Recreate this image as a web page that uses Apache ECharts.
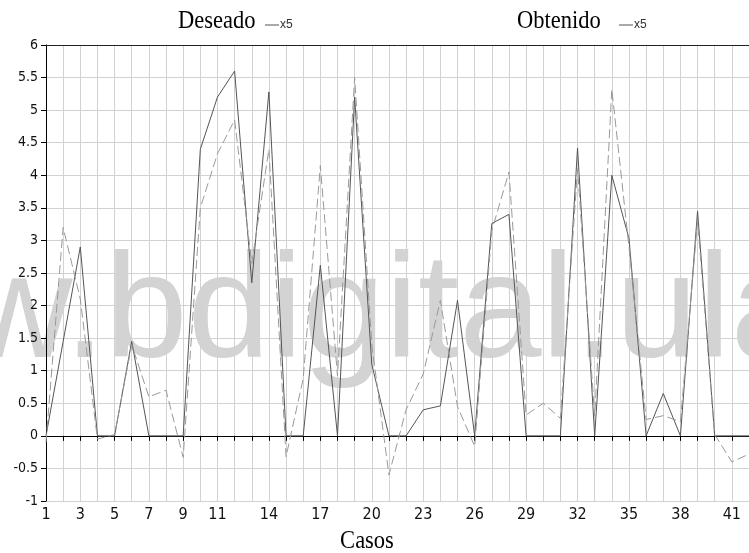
<!DOCTYPE html>
<html>
<head>
<meta charset="utf-8">
<script src="https://cdn.jsdelivr.net/npm/echarts@6/dist/echarts.min.js"></script>
<style>
  html, body { margin: 0; padding: 0; background: #ffffff; }
  #chart { width: 749px; height: 553px; }
</style>
</head>
<body>
<div id="chart"></div>
<script>
// Case numbers along the horizontal axis
const casos = [1,2,3,4,5,6,7,8,9,10,11,12,13,14,15,16,17,18,19,20,21,22,23,24,25,26,27,28,29,30,31,32,33,34,35,36,37,38,39,40,41,42];

// Desired output per case
const deseado = [0, 1.45, 2.9, 0, 0, 1.45, 0, 0, 0, 4.4, 5.2, 5.6, 2.35, 5.28, 0, 0, 2.62, 0, 5.2, 1.1,
  0, 0, 0.4, 0.46, 2.08, 0, 3.26, 3.4, 0, 0, 0, 4.42, 0, 4.0, 3.03, 0, 0.65, 0, 3.45, 0, 0, 0];

// Obtained output per case
const obtenido = [-0.1, 3.2, 2.1, -0.05, 0.02, 1.4, 0.6, 0.7, -0.33, 3.5, 4.33, 4.85, 2.65, 4.4, -0.32, 0.88, 4.15, 0.92, 5.5, 1.4,
  -0.6, 0.4, 0.95, 2.08, 0.45, -0.16, 3.15, 4.05, 0.32, 0.5, 0.27, 4.1, 0.3, 5.32, 2.9, 0.25, 0.31, 0.22, 3.3, 0.02, -0.4, -0.28];

// Cases that carry a label on the horizontal axis
const xTickLabels = ['1','3','5','7','9','11','14','17','20','23','26','29','32','35','38','41'];

const chart = echarts.init(document.getElementById('chart'), null, { renderer: 'canvas' });

const labelFont = "'Liberation Sans Narrow', 'DejaVu Sans Condensed', 'Liberation Sans', Arial, sans-serif";
const serifFont = "'Liberation Serif', 'Times New Roman', serif";
const sansFont = "'Liberation Sans', Arial, sans-serif";

chart.setOption({
  animation: false,
  backgroundColor: '#ffffff',
  grid: { left: 46, top: 45, bottom: 52, right: -11.6, containLabel: false },
  xAxis: [
    {
      type: 'category',
      data: casos.map(String),
      boundaryGap: false,
      axisLine: { show: true, lineStyle: { color: '#000', width: 1 } },
      axisTick: { show: true, interval: 0, length: 5, lineStyle: { color: '#000' } },
      axisLabel: {
        interval: (idx, val) => xTickLabels.includes(val),
        color: '#111', fontFamily: labelFont, fontSize: 16, margin: 6
      },
      splitLine: { show: true, interval: 0, lineStyle: { color: '#d2d2d2', width: 1 } }
    },
    {
      type: 'category',
      position: 'top',
      data: casos.map(String),
      boundaryGap: false,
      axisLine: { show: true, lineStyle: { color: '#222', width: 1 } },
      axisTick: { show: false },
      axisLabel: { show: false },
      splitLine: { show: false }
    }
  ],
  yAxis: {
    type: 'value',
    min: -1, max: 6, interval: 0.5,
    axisLine: { show: true, lineStyle: { color: '#000', width: 1 } },
    axisTick: { show: true, length: 5, lineStyle: { color: '#000' } },
    axisLabel: { color: '#111', fontFamily: labelFont, fontSize: 14, margin: 8 },
    splitLine: { show: true, lineStyle: { color: '#d2d2d2', width: 1 } }
  },
  graphic: [
    {
      // site watermark, on the bottom layer under the axes and the lines
      type: 'text', zlevel: -1, z: 0, silent: true,
      style: {
        text: 'w.bdigital.ula', x: -34.5, y: 316,
        font: '148px ' + sansFont,
        fill: '#d3d3d3', verticalAlign: 'middle', align: 'left'
      }
    },
    { type: 'text', x: 178, y: 21, scaleX: 0.9, style: { text: 'Deseado', x: 0, y: 0, font: '25px ' + serifFont, fill: '#000', verticalAlign: 'middle' } },
    { type: 'line', shape: { x1: 265, y1: 25, x2: 279, y2: 25 }, style: { stroke: '#555', lineWidth: 1 } },
    { type: 'text', style: { text: 'x5', x: 280, y: 25, font: '12px ' + sansFont, fill: '#333', verticalAlign: 'middle' } },
    { type: 'text', x: 517, y: 21, scaleX: 0.9, style: { text: 'Obtenido', x: 0, y: 0, font: '25px ' + serifFont, fill: '#000', verticalAlign: 'middle' } },
    { type: 'line', shape: { x1: 619, y1: 25, x2: 633, y2: 25 }, style: { stroke: '#555', lineWidth: 1 } },
    { type: 'text', style: { text: 'x5', x: 634, y: 25, font: '12px ' + sansFont, fill: '#333', verticalAlign: 'middle' } },
    { type: 'text', x: 367, y: 541, scaleX: 0.9, style: { text: 'Casos', x: 0, y: 0, font: '25px ' + serifFont, fill: '#000', align: 'center', verticalAlign: 'middle' } }
  ],
  series: [
    {
      name: 'Deseado', type: 'line', data: deseado, showSymbol: false, z: 3,
      lineStyle: { color: '#555555', width: 1, type: 'solid' }
    },
    {
      name: 'Obtenido', type: 'line', data: obtenido, showSymbol: false, z: 4,
      lineStyle: { color: '#999999', width: 1, type: [9, 4] }
    }
  ]
});
</script>
</body>
</html>
